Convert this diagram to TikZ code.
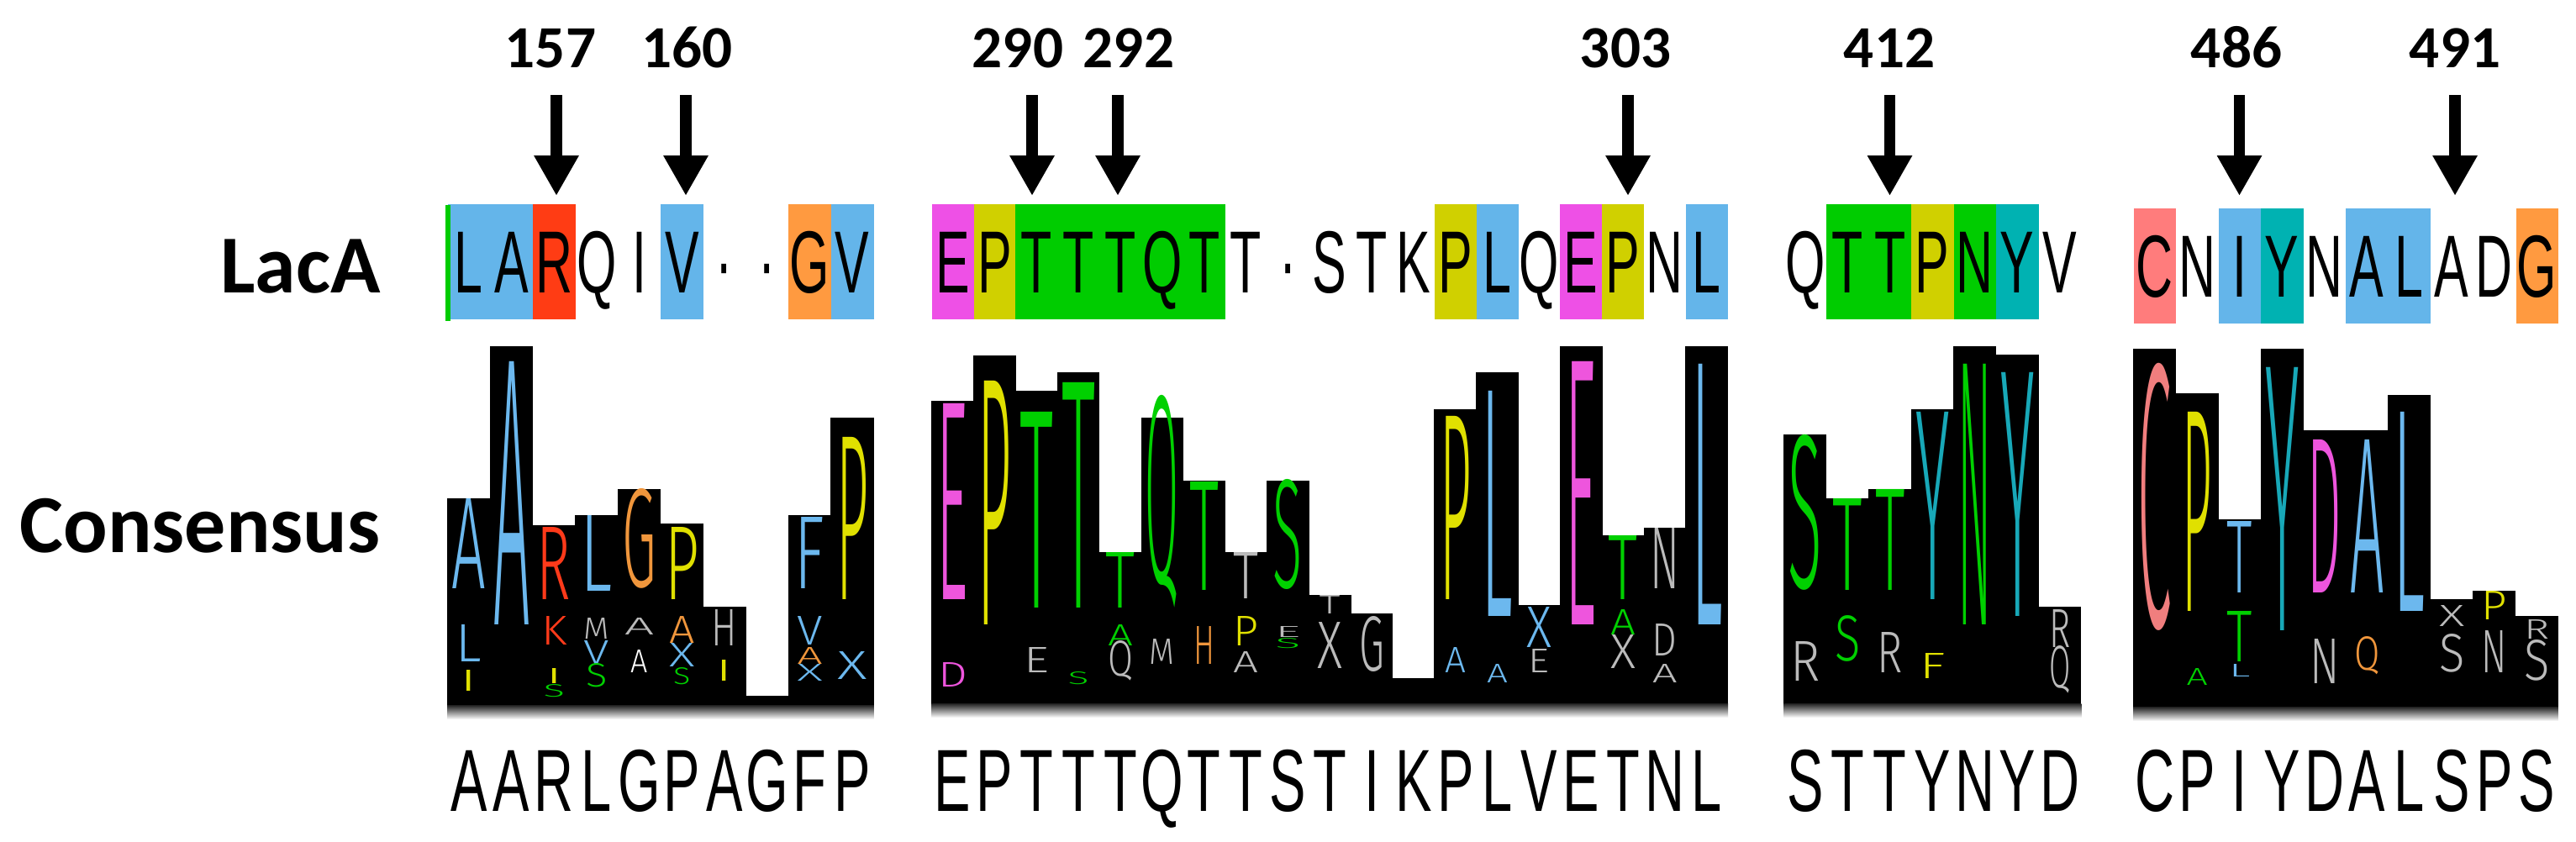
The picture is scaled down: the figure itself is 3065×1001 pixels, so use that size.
\documentclass[tikz,border=0pt]{standalone}
\usepackage{fontspec}
\setmainfont{Liberation Sans}
\newfontfamily\labfont{Carlito}
\newfontfamily\thinfont{Fira Sans Light}
\usetikzlibrary{arrows.meta}
\newlength\pxu \setlength\pxu{0.5690551pt}
% LacA row box colours
\definecolor{bblue}{HTML}{64B5EA}
\definecolor{bred}{HTML}{FF3C14}
\definecolor{borange}{HTML}{FF9A40}
\definecolor{bmag}{HTML}{EE50E6}
\definecolor{byel}{HTML}{D0D000}
\definecolor{bgreen}{HTML}{00CC00}
\definecolor{bteal}{HTML}{00B2B2}
\definecolor{bsal}{HTML}{FF7C7C}
% logo colours
\definecolor{lblue}{HTML}{6CB8EE}
\definecolor{lred}{HTML}{FF3A1A}
\definecolor{lorange}{HTML}{F0963C}
\definecolor{lyel}{HTML}{E0E000}
\definecolor{lgreen}{HTML}{00D000}
\definecolor{lmag}{HTML}{EE55DD}
\definecolor{lteal}{HTML}{18A8B8}
\definecolor{lsal}{HTML}{F07E7E}
\definecolor{lgray}{HTML}{BBBBBB}
\newcounter{gc}
\newcommand\glyphat[6]{\stepcounter{gc}%
  \node[glyph,text=#5] (g\arabic{gc}) at (#1,#2) {\resizebox{#3\pxu}{#4\pxu}{\thinfont #6}};}
\newcommand\gX[8]{%
  \pgfmathsetmacro\glX{#1+(#3+0.5)*#2}%
  \pgfmathsetmacro\glW{#6*#2}%
  \pgfmathsetmacro\glH{#5-#4}%
  \glyphat{\glX}{#5}{\glW}{\glH}{#7}{#8}}
\newcommand\gA[6]{\gX{532.5}{50.7}{#1}{#2}{#3}{#4}{#5}{#6}}
\newcommand\gB[6]{\gX{1108.7}{49.84}{#1}{#2}{#3}{#4}{#5}{#6}}
\newcommand\gC[6]{\gX{2122.5}{50.5}{#1}{#2}{#3}{#4}{#5}{#6}}
\newcommand\gD[6]{\gX{2538.5}{50.5}{#1}{#2}{#3}{#4}{#5}{#6}}
\tikzset{
  glyph/.style={inner sep=0pt, outer sep=0pt, anchor=south},
  lac/.style={inner sep=0pt, anchor=base, font=\fontsize{59.75pt}{60pt}\selectfont},
  cons/.style={inner sep=0pt, anchor=base, font=\fontsize{59.75pt}{60pt}\selectfont},
  numlab/.style={inner sep=0pt, anchor=base, font=\labfont\bfseries\fontsize{40.5pt}{41pt}\selectfont},
  rowlab/.style={inner sep=0pt, anchor=base east, font=\labfont\bfseries\fontsize{55.8pt}{56pt}\selectfont},
  arr/.style={line width=7.6pt, -{Triangle[width=28.5pt,length=27.3pt]}},
  shadowfade/.style={top color=black!85, bottom color=white}
}
\begin{document}
\begin{tikzpicture}[x=0.02cm, y=-0.02cm]
\fill[white] (0,0) rectangle (3065,1001);
\useasboundingbox (0,0) rectangle (3065,1001);

% ---------- row labels ----------
\node[rowlab] (laca) at (453,348) {LacA};
\node[rowlab] (consensus) at (453,657) {Consensus};

% ---------- position numbers and arrows ----------
\node[numlab] (n157) at (655,80) {157};
\node[numlab] (n160) at (817.6,80) {160};
\node[numlab] (n290) at (1211,80) {290};
\node[numlab] (n292) at (1343,80) {292};
\node[numlab] (n303) at (1934,80) {303};
\node[numlab] (n412) at (2248,80) {412};
\node[numlab] (n486) at (2661,80) {486};
\node[numlab] (n491) at (2921,80) {491};
\foreach \nm/\ax in {157/662, 160/816, 290/1228, 292/1330, 303/1937, 412/2248.5, 486/2664.5, 491/2921}{
  \coordinate (s\nm) at (\ax,113);
  \coordinate (e\nm) at (\ax,233);
  \draw[arr] (s\nm) -- (e\nm);
}

% ---------- LacA row boxes ----------
% block A
\fill[bblue] (532.5,243) rectangle (633.9,380);
\fill[bred] (633.9,243) rectangle (684.6,380);
\fill[bblue] (786,243) rectangle (836.7,380);
\fill[borange] (938.1,243) rectangle (988.8,380);
\fill[bblue] (988.8,243) rectangle (1039.5,380);
\fill[bgreen] (530,244) rectangle (535.5,382);
% block B
\fill[bmag] (1108.7,243) rectangle (1158.5,380);
\fill[byel] (1158.5,243) rectangle (1208.4,380);
\fill[bgreen] (1208.4,243) rectangle (1457.6,380);
\fill[byel] (1706.8,243) rectangle (1756.6,380);
\fill[bblue] (1756.6,243) rectangle (1806.5,380);
\fill[bmag] (1856.3,243) rectangle (1906.1,380);
\fill[byel] (1906.1,243) rectangle (1956,380);
\fill[bblue] (2005.8,243) rectangle (2055.7,380);
% block C
\fill[bgreen] (2173,243) rectangle (2274,380);
\fill[byel] (2274,243) rectangle (2324.5,380);
\fill[bgreen] (2324.5,243) rectangle (2375,380);
\fill[bteal] (2375,243) rectangle (2425.5,380);
% block D
\fill[bsal] (2538.5,248) rectangle (2589,385);
\fill[bblue] (2639.5,248) rectangle (2690,385);
\fill[bteal] (2690,248) rectangle (2740.5,385);
\fill[bblue] (2791,248) rectangle (2892,385);
\fill[borange] (2993.5,248) rectangle (3044,385);

% ---------- LacA row letters ----------
\foreach \ch [count=\i from 0] in {L,A,R,Q,I,V,·,·,G,V}
  \node[lac] (la\i) at ({532.5+(\i+0.5)*50.7},348) {\scalebox{0.58}[1]{\ch}};
\foreach \ch [count=\i from 0] in {E,P,T,T,T,Q,T,T,·,S,T,K,P,L,Q,E,P,N,L}
  \node[lac] (lb\i) at ({1108.7+(\i+0.5)*49.84},348) {\scalebox{0.58}[1]{\ch}};
\foreach \ch [count=\i from 0] in {Q,T,T,P,N,Y,V}
  \node[lac] (lc\i) at ({2122.5+(\i+0.5)*50.5},348) {\scalebox{0.58}[1]{\ch}};
\foreach \ch [count=\i from 0] in {C,N,I,Y,N,A,L,A,D,G}
  \node[lac] (ld\i) at ({2538.5+(\i+0.5)*50.5},353) {\scalebox{0.58}[1]{\ch}};

% ---------- logo black stacks ----------
\foreach \t [count=\i from 0] in {593,412,625,613,582,623,722,828,613,497}
  \fill[black] ({532.5+\i*50.7-0.4},\t) rectangle ({532.5+(\i+1)*50.7+0.4},840);
\foreach \t [count=\i from 0] in {477,423,465,443,657,497,572,657,572,708,730,807,487,443,720,412,637,628,412}
  \fill[black] ({1108.7+\i*49.84-0.4},\t) rectangle ({1108.7+(\i+1)*49.84+0.4},838);
\foreach \t [count=\i from 0] in {517,593,582,487,412,422,722}
  \fill[black] ({2122.5+\i*50.5-0.4},\t) rectangle ({2122.5+(\i+1)*50.5+0.4},838);
\foreach \t [count=\i from 0] in {415,468,618,415,512,512,470,713,703,733}
  \fill[black] ({2538.5+\i*50.5-0.4},\t) rectangle ({2538.5+(\i+1)*50.5+0.4},842);
\shade[shadowfade] (532.1,839.5) rectangle (1039.9,856);
\shade[shadowfade] (1108.3,837.5) rectangle (2056.1,854);
\shade[shadowfade] (2122.1,837.5) rectangle (2476.4,854);
\shade[shadowfade] (2538.1,841.5) rectangle (3043.9,858);

% ---------- logo letters, block A ----------
\gA{0}{593}{700}{0.8}{lblue}{A}
\gA{0}{743}{787}{0.6}{lblue}{L}
\gA{0}{797}{822}{0.4}{lyel}{I}
\gA{1}{430}{743}{0.85}{lblue}{A}
\gA{2}{627}{713}{0.8}{lred}{R}
\gA{2}{733}{767}{0.6}{lred}{K}
\gA{2}{795}{813}{0.4}{lyel}{I}
\gA{2}{815}{830}{0.5}{lgreen}{S}
\gA{3}{613}{703}{0.75}{lblue}{L}
\gA{3}{735}{760}{0.6}{lgray}{M}
\gA{3}{762}{790}{0.6}{lblue}{V}
\gA{3}{790}{818}{0.5}{lgreen}{S}
\gA{4}{583}{700}{0.8}{lorange}{G}
\gA{4}{735}{755}{0.7}{lgray}{A}
\gA{4}{773}{800}{0.4}{white}{A}
\gA{5}{627}{713}{0.8}{lyel}{P}
\gA{5}{733}{765}{0.6}{lorange}{A}
\gA{5}{765}{793}{0.6}{lblue}{X}
\gA{5}{795}{815}{0.4}{lgreen}{S}
\gA{6}{725}{768}{0.6}{lgray}{H}
\gA{6}{785}{810}{0.4}{lyel}{I}
\gA{8}{615}{700}{0.7}{lblue}{F}
\gA{8}{733}{767}{0.6}{lblue}{V}
\gA{8}{770}{790}{0.6}{lorange}{A}
\gA{8}{790}{810}{0.6}{lblue}{X}
\gA{9}{520}{713}{0.75}{lyel}{P}
\gA{9}{775}{808}{0.7}{lblue}{X}

% ---------- logo letters, block B ----------
\gB{0}{480}{713}{0.75}{lmag}{E}
\gB{0}{788}{817}{0.7}{lmag}{D}
\gB{1}{453}{743}{0.8}{lyel}{P}
\gB{2}{490}{723}{0.8}{lgreen}{T}
\gB{2}{770}{800}{0.6}{lgray}{E}
\gB{3}{455}{723}{0.8}{lgreen}{T}
\gB{3}{800}{815}{0.5}{lgreen}{S}
\gB{4}{657}{723}{0.7}{lgreen}{T}
\gB{4}{743}{768}{0.6}{lgreen}{A}
\gB{4}{768}{810}{0.6}{lgray}{Q}
\gB{5}{500}{723}{0.8}{lgreen}{Q}
\gB{5}{760}{790}{0.6}{lgray}{M}
\gB{6}{573}{702}{0.7}{lgreen}{T}
\gB{6}{745}{790}{0.5}{lorange}{H}
\gB{7}{657}{712}{0.6}{lgray}{T}
\gB{7}{733}{768}{0.6}{lyel}{P}
\gB{7}{775}{800}{0.6}{lgray}{A}
\gB{8}{573}{702}{0.7}{lgreen}{S}
\gB{8}{745}{758}{0.6}{lgray}{E}
\gB{8}{760}{772}{0.6}{lgreen}{S}
\gB{9}{708}{730}{0.5}{lgray}{T}
\gB{9}{740}{795}{0.6}{lgray}{X}
\gB{10}{735}{800}{0.6}{lgray}{G}
\gB{12}{495}{713}{0.75}{lyel}{P}
\gB{12}{770}{800}{0.5}{lblue}{A}
\gB{13}{465}{733}{0.75}{lblue}{L}
\gB{13}{790}{812}{0.5}{lblue}{A}
\gB{14}{722}{770}{0.6}{lblue}{X}
\gB{14}{772}{800}{0.5}{lgray}{E}
\gB{15}{430}{743}{0.75}{lmag}{E}
\gB{16}{637}{713}{0.7}{lgreen}{T}
\gB{16}{725}{755}{0.6}{lgreen}{A}
\gB{16}{755}{795}{0.6}{lgray}{X}
\gB{17}{628}{700}{0.7}{lgray}{N}
\gB{17}{742}{780}{0.6}{lgray}{D}
\gB{17}{790}{812}{0.6}{lgray}{A}
\gB{18}{433}{743}{0.75}{lblue}{L}

% ---------- logo letters, block C ----------
\gC{0}{520}{702}{0.8}{lgreen}{S}
\gC{0}{763}{810}{0.7}{lgray}{R}
\gC{1}{593}{702}{0.7}{lgreen}{T}
\gC{1}{733}{787}{0.6}{lgreen}{S}
\gC{2}{582}{702}{0.7}{lgreen}{T}
\gC{2}{752}{800}{0.6}{lgray}{R}
\gC{3}{490}{713}{0.8}{lteal}{Y}
\gC{3}{777}{807}{0.6}{lyel}{F}
\gC{4}{433}{743}{0.8}{lgreen}{N}
\gC{5}{443}{733}{0.8}{lteal}{Y}
\gC{6}{725}{770}{0.5}{lgray}{R}
\gC{6}{775}{825}{0.5}{lgray}{Q}

% ---------- logo letters, block D ----------
\gD{0}{437}{750}{0.8}{lsal}{C}
\gD{1}{490}{727}{0.7}{lyel}{P}
\gD{1}{795}{815}{0.5}{lgreen}{A}
\gD{2}{620}{705}{0.6}{lblue}{T}
\gD{2}{727}{787}{0.6}{lgreen}{T}
\gD{2}{790}{805}{0.5}{lblue}{L}
\gD{3}{437}{750}{0.8}{lteal}{Y}
\gD{4}{523}{705}{0.8}{lmag}{D}
\gD{4}{760}{813}{0.7}{lgray}{N}
\gD{5}{523}{705}{0.8}{lblue}{A}
\gD{5}{763}{803}{0.6}{lorange}{Q}
\gD{6}{490}{727}{0.75}{lblue}{L}
\gD{7}{720}{745}{0.6}{lgray}{X}
\gD{7}{755}{800}{0.6}{lgray}{S}
\gD{8}{703}{737}{0.6}{lyel}{P}
\gD{8}{750}{800}{0.6}{lgray}{N}
\gD{9}{737}{760}{0.6}{lgray}{R}
\gD{9}{762}{810}{0.6}{lgray}{S}

% ---------- consensus sequence ----------
\foreach \ch [count=\i from 0] in {A,A,R,L,G,P,A,G,F,P}
  \node[cons] (ca\i) at ({532.5+(\i+0.5)*50.7},965) {\scalebox{0.62}[1]{\ch}};
\foreach \ch [count=\i from 0] in {E,P,T,T,T,Q,T,T,S,T,I,K,P,L,V,E,T,N,L}
  \node[cons] (cb\i) at ({1108.7+(\i+0.5)*49.84},965) {\scalebox{0.62}[1]{\ch}};
\foreach \ch [count=\i from 0] in {S,T,T,Y,N,Y,D}
  \node[cons] (cc\i) at ({2122.5+(\i+0.5)*50.5},965) {\scalebox{0.62}[1]{\ch}};
\foreach \ch [count=\i from 0] in {C,P,I,Y,D,A,L,S,P,S}
  \node[cons] (cd\i) at ({2538.5+(\i+0.5)*50.5},965) {\scalebox{0.62}[1]{\ch}};
\end{tikzpicture}
\end{document}
